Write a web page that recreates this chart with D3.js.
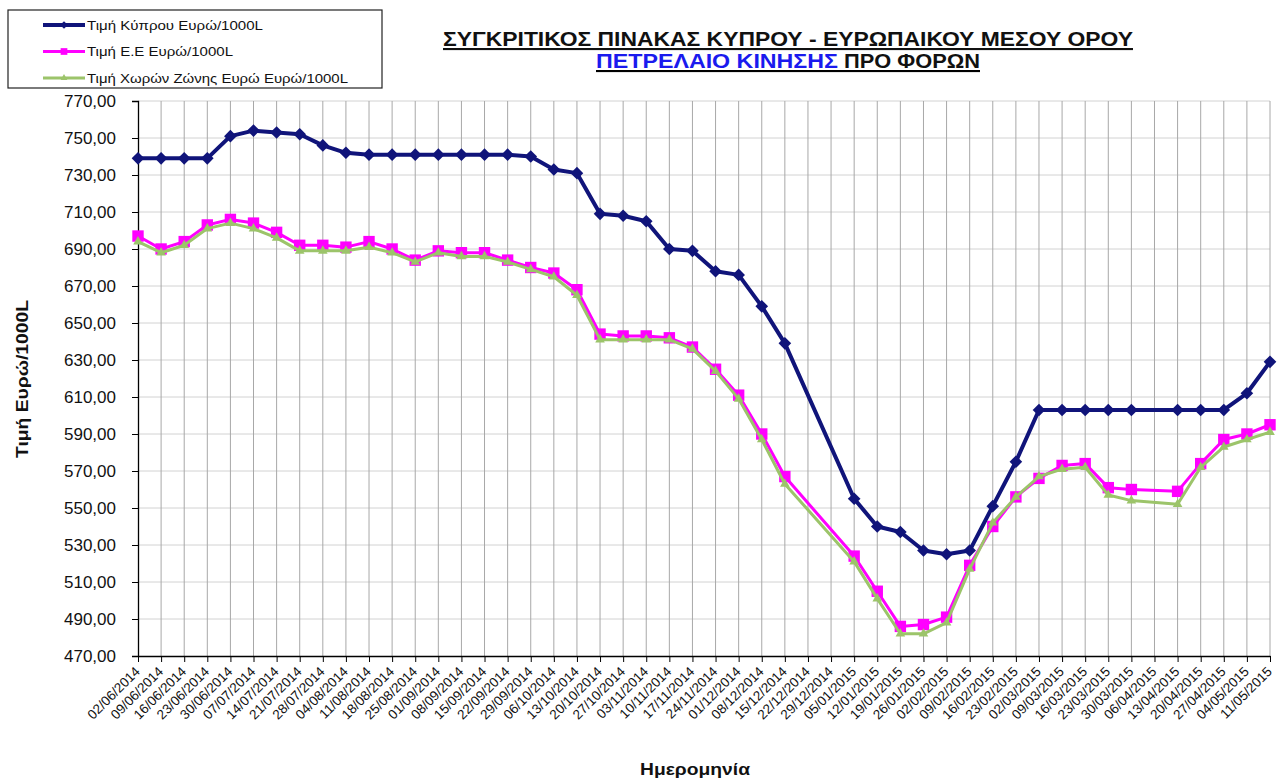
<!DOCTYPE html>
<html><head><meta charset="utf-8">
<script src="https://cdn.jsdelivr.net/npm/d3@7"></script>
<style>body{margin:0;background:#fff}svg{display:block}text{font-family:"Liberation Sans",Arial,sans-serif}</style>
</head><body>
<script>
const dates = ["02/06/2014","09/06/2014","16/06/2014","23/06/2014","30/06/2014","07/07/2014","14/07/2014","21/07/2014","28/07/2014","04/08/2014","11/08/2014","18/08/2014","25/08/2014","01/09/2014","08/09/2014","15/09/2014","22/09/2014","29/09/2014","06/10/2014","13/10/2014","20/10/2014","27/10/2014","03/11/2014","10/11/2014","17/11/2014","24/11/2014","01/12/2014","08/12/2014","15/12/2014","22/12/2014","29/12/2014","05/01/2015","12/01/2015","19/01/2015","26/01/2015","02/02/2015","09/02/2015","16/02/2015","23/02/2015","02/03/2015","09/03/2015","16/03/2015","23/03/2015","30/03/2015","06/04/2015","13/04/2015","20/04/2015","27/04/2015","04/05/2015","11/05/2015"];
const cyprus = [739,739,739,739,751,754,753,752,746,742,741,741,741,741,741,741,741,740,733,731,709,708,705,690,689,678,676,659,639,null,null,555,540,537,527,525,527,551,575,603,603,603,603,603,null,603,603,603,612,629];
const eu = [697,690,694,703,706,704,699,692,692,691,694,690,684,689,688,688,684,680,677,668,644,643,643,642,637,625,611,590,567,null,null,524,505,486,487,491,519,540,556,566,573,574,561,560,null,559,574,587,590,595];
const eurozone = [694,688,692,701,704,701,696,689,689,689,691,688,683,688,686,686,683,679,675,665,641,641,641,641,636,624,609,587,563,null,null,521,501,482,482,488,517,542,556,567,571,572,557,554,null,552,572,583,587,591];
const seriesNames = ["Τιμή Κύπρου Ευρώ/1000L","Τιμή Ε.Ε Ευρώ/1000L","Τιμή Χωρών Ζώνης Ευρώ Ευρώ/1000L"];
const yTicks = [470,490,510,530,550,570,590,610,630,650,670,690,710,730,750,770];
const titleLine1 = "ΣΥΓΚΡΙΤΙΚΟΣ ΠΙΝΑΚΑΣ ΚΥΠΡΟΥ - ΕΥΡΩΠΑΙΚΟΥ ΜΕΣΟΥ ΟΡΟΥ";
const titleLine2a = "ΠΕΤΡΕΛΑΙΟ ΚΙΝΗΣΗΣ";
const titleLine2b = " ΠΡΟ ΦΟΡΩΝ";
const yTitle = "Τιμή Ευρώ/1000L";
const xTitle = "Ημερομηνία";

const W = 1284, H = 778;
const svg = d3.select("body").append("svg").attr("width", W).attr("height", H);
const x = d3.scalePoint().domain(dates).range([138, 1270]);
const y = d3.scaleLinear().domain([470, 770]).range([656, 101]);

// gridlines
svg.append("g").selectAll("line").data(yTicks.slice(1)).join("line")
  .attr("x1", 138).attr("x2", 1270).attr("y1", d => y(d)).attr("y2", d => y(d))
  .attr("stroke", "#d2d2d2").attr("stroke-width", 1);
svg.append("g").selectAll("line").data(dates.slice(1)).join("line")
  .attr("x1", d => x(d)).attr("x2", d => x(d)).attr("y1", 101).attr("y2", 656)
  .attr("stroke", "#a8a8a8").attr("stroke-width", 1);

// axes
const fmt = d => d3.format(".2f")(d).replace(".", ",");
const yAxis = svg.append("g").attr("transform", "translate(138,0)")
  .call(d3.axisLeft(y).tickValues(yTicks).tickFormat(fmt).tickSize(6).tickPadding(16));
yAxis.select(".domain").attr("stroke", "#000").attr("stroke-width", 1.3);
yAxis.selectAll("text").attr("font-size", 17).attr("fill", "#111").attr("font-family", "Liberation Sans, Arial");

const xAxis = svg.append("g").attr("transform", "translate(0,656)")
  .call(d3.axisBottom(x).tickSize(6).tickSizeOuter(0));
xAxis.select(".domain").attr("stroke", "#000").attr("stroke-width", 1.3);
xAxis.selectAll("text").attr("font-size", 13.5).attr("fill", "#111")
  .attr("font-family", "Liberation Sans, Arial")
  .attr("text-anchor", "end").attr("x", 0).attr("y", 0).attr("dy", "0.35em")
  .attr("transform", "translate(-1,13) rotate(-45)");

// series
const series = [
  {vals: cyprus, color: "#10147a", width: 4, marker: "diamond"},
  {vals: eu, color: "#ff00ff", width: 3, marker: "square"},
  {vals: eurozone, color: "#9cc46a", width: 3, marker: "triangle"}
];
const line = d3.line().x(d => x(d.k)).y(d => y(d.v));
function markerPath(type) {
  if (type === "diamond") return d3.symbol(d3.symbolSquare, 80)();
  if (type === "square") return d3.symbol(d3.symbolSquare, 130)();
  return d3.symbol(d3.symbolTriangle, 40)();
}
function markerRot(type) { return type === "diamond" ? " rotate(45)" : ""; }
series.forEach(s => {
  const pts = dates.map((k, i) => ({k, v: s.vals[i]})).filter(d => d.v != null);
  svg.append("path").datum(pts).attr("d", line).attr("fill", "none")
    .attr("stroke", s.color).attr("stroke-width", s.width).attr("stroke-linejoin", "round");
  svg.append("g").selectAll("path").data(pts).join("path")
    .attr("d", markerPath(s.marker))
    .attr("transform", d => `translate(${x(d.k)},${y(d.v)})` + markerRot(s.marker))
    .attr("fill", s.color);
});

// titles
svg.append("text").attr("x", 788).attr("y", 46).attr("text-anchor", "middle")
  .attr("font-size", 21).attr("font-weight", "bold").attr("fill", "#111")
  .attr("textLength", 690).attr("lengthAdjust", "spacingAndGlyphs")
  .attr("text-decoration", "underline").text(titleLine1);
const t2 = svg.append("text").attr("x", 596).attr("y", 68)
  .attr("font-size", 21).attr("font-weight", "bold").attr("text-decoration", "underline");
t2.append("tspan").attr("fill", "#1a1aee").attr("textLength", 242).attr("lengthAdjust", "spacingAndGlyphs").text(titleLine2a);
t2.append("tspan").attr("fill", "#111").attr("textLength", 142).attr("lengthAdjust", "spacingAndGlyphs").text(titleLine2b);

svg.append("text").attr("transform", "translate(28,379) rotate(-90)").attr("text-anchor", "middle")
  .attr("font-size", 16).attr("font-weight", "bold").attr("fill", "#111")
  .attr("textLength", 158).attr("lengthAdjust", "spacingAndGlyphs").text(yTitle);
svg.append("text").attr("x", 695).attr("y", 775).attr("text-anchor", "middle")
  .attr("font-size", 17).attr("font-weight", "bold").attr("fill", "#111")
  .attr("textLength", 110).attr("lengthAdjust", "spacingAndGlyphs").text(xTitle);

// legend
const legendLens = [176, 146, 261];
const lg = svg.append("g");
lg.append("rect").attr("x", 8).attr("y", 10).attr("width", 374).attr("height", 78)
  .attr("fill", "#fff").attr("stroke", "#222").attr("stroke-width", 1.2);
series.forEach((s, i) => {
  const ly = 25 + i * 26.5;
  lg.append("line").attr("x1", 43).attr("x2", 85).attr("y1", ly).attr("y2", ly)
    .attr("stroke", s.color).attr("stroke-width", s.width);
  lg.append("path").attr("d", s.marker === "diamond" ? d3.symbol(d3.symbolSquare, 30)() : s.marker === "square" ? d3.symbol(d3.symbolSquare, 45)() : d3.symbol(d3.symbolTriangle, 20)())
    .attr("transform", `translate(64,${ly})` + markerRot(s.marker)).attr("fill", s.color);
  lg.append("text").attr("x", 87).attr("y", ly + 4.5).attr("font-size", 12.5).attr("fill", "#111")
    .attr("textLength", legendLens[i]).attr("lengthAdjust", "spacingAndGlyphs").text(seriesNames[i]);
});
</script>
</body></html>
